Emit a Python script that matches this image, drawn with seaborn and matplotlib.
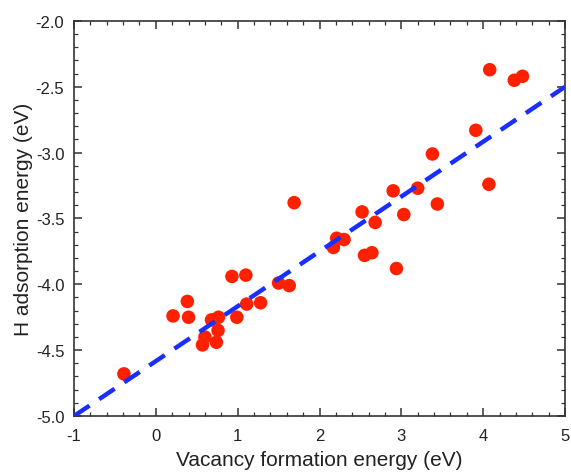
import numpy as np
import pandas as pd
import matplotlib
matplotlib.use("Agg")
import matplotlib.pyplot as plt
import seaborn as sns
from matplotlib.ticker import MultipleLocator

vacancy_energy = [-0.39, 0.21, 0.385, 0.40, 0.57, 0.60, 0.68, 0.74, 0.76, 0.765, 0.93, 0.99,
                  1.10, 1.11, 1.28, 1.50, 1.63, 1.69, 2.17, 2.21, 2.30, 2.52, 2.55, 2.64,
                  2.68, 2.90, 2.94, 3.03, 3.20, 3.38, 3.44, 3.91, 4.07, 4.08, 4.38, 4.48]
h_adsorption = [-4.68, -4.24, -4.13, -4.25, -4.46, -4.40, -4.27, -4.44, -4.35, -4.25, -3.94, -4.25,
                -3.93, -4.15, -4.14, -3.99, -4.01, -3.38, -3.72, -3.65, -3.66, -3.45, -3.78, -3.76,
                -3.53, -3.29, -3.88, -3.47, -3.27, -3.01, -3.39, -2.83, -3.24, -2.37, -2.45, -2.42]
fit_x = [-1.0, 5.0]
fit_y = [-5.0, -2.5]

sns.set_theme(style="ticks")
plt.rcParams['font.family'] = ['Liberation Sans', 'DejaVu Sans']

df = pd.DataFrame({"x": vacancy_energy, "y": h_adsorption})
fit = pd.DataFrame({"x": fit_x, "y": fit_y})

fig = plt.figure(figsize=(5.71, 4.77), dpi=100)
ax = fig.add_axes([0.1296, 0.1258, 0.8599, 0.8281])

sns.lineplot(data=fit, x="x", y="y", ax=ax, color="#1a2fff", lw=3.2,
             linestyle=(0, (4.2, 2.6)), zorder=3)
sns.scatterplot(data=df, x="x", y="y", ax=ax, color="#ff2000", s=95,
                edgecolor="none", zorder=2)

ax.set_xlim(-1, 5)
ax.set_ylim(-5, -2)
ax.xaxis.set_major_locator(MultipleLocator(1))
ax.xaxis.set_minor_locator(MultipleLocator(0.2))
ax.yaxis.set_major_locator(MultipleLocator(0.5))
ax.yaxis.set_minor_locator(MultipleLocator(0.1))
ax.xaxis.set_major_formatter(matplotlib.ticker.FormatStrFormatter('%d'))
ax.yaxis.set_major_formatter(matplotlib.ticker.FormatStrFormatter('%.1f'))
ax.tick_params(which="both", direction="in", top=True, right=True, colors="#333333",
               labelcolor="#222222", labelsize=12)
ax.tick_params(which="major", length=5.8, width=1.1)
ax.tick_params(which="minor", length=3, width=0.9)
ax.tick_params(axis="x", which="major", pad=8.5)
ax.tick_params(axis="y", which="major", pad=7)
for s in ax.spines.values():
    s.set_linewidth(1.2)
    s.set_color("#333333")
ax.set_xlabel("Vacancy formation energy (eV)", fontsize=15, color="#222222", labelpad=5)
ax.set_ylabel("H adsorption energy (eV)", fontsize=15, color="#222222", labelpad=2)

fig.savefig("out.png", dpi=100)
